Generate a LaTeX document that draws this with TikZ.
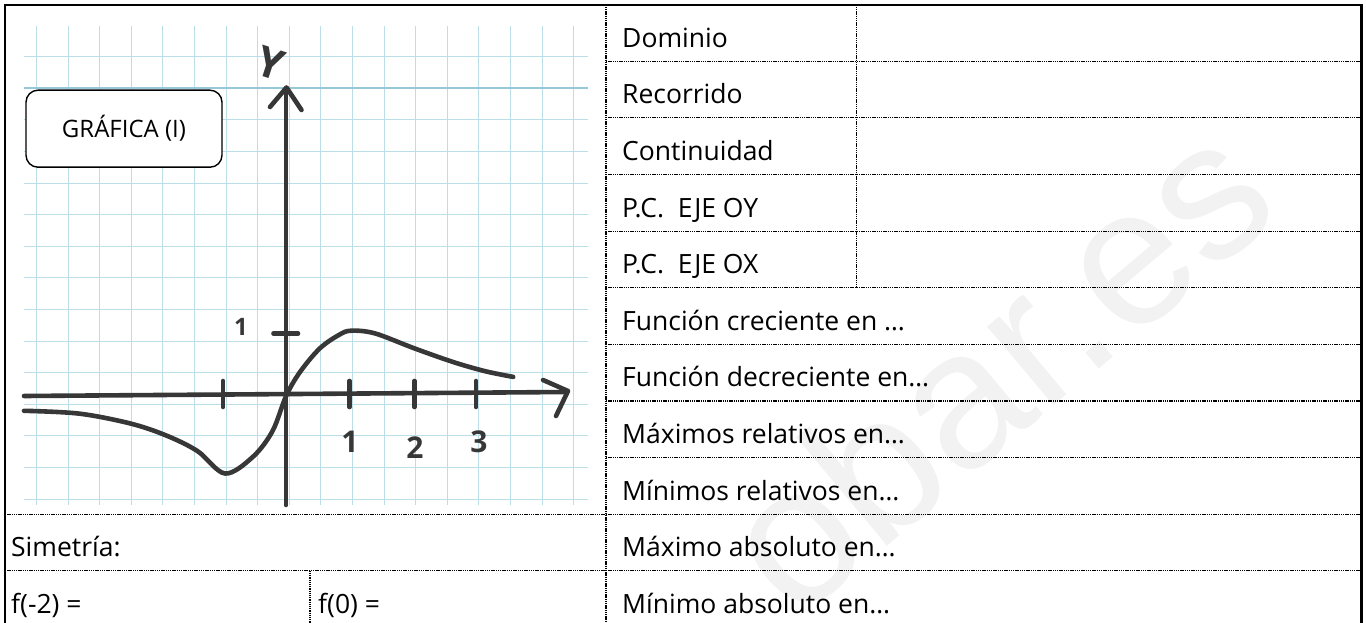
\documentclass[tikz,border=0pt]{standalone}
\usepackage{fontspec}
\setmainfont{Open Sans}
\newfontfamily\markfont{Liberation Sans}
\usetikzlibrary{calc}

\definecolor{inkgrey}{RGB}{55,55,55}
\definecolor{paperblue}{RGB}{188,222,232}
\definecolor{marginblue}{RGB}{150,200,218}

\tikzset{
  frame/.style={line width=2.2pt, color=black},
  cellline/.style={line width=1.2pt, color=black, dash pattern=on 1.3pt off 0.9pt},
  paperline/.style={line width=1pt, color=paperblue},
  handline/.style={line width=4.6pt, color=inkgrey, line cap=round, line join=round},
  celltext/.style={anchor=base west, inner sep=0pt, font=\fontsize{26.5}{31}\selectfont},
  handtext/.style={inner sep=0pt, text=inkgrey, font=\bfseries\fontsize{30}{36}\selectfont},
  titlebox/.style={draw, line width=1.4pt, rounded corners=12pt, fill=white,
    minimum width=196pt, minimum height=77pt}
}

\begin{document}
\begin{tikzpicture}[x=1pt, y=-1pt]
			%%%%% START %%%%%
			\useasboundingbox (0,0) rectangle (1366,623);
			
			% faint watermark
			\node[rotate=40, text=black!5, inner sep=0pt, font=\markfont\fontsize{195}{195}\selectfont] (mark) at (995,365) {obar.es};
			
			% squared paper
			\foreach \gx in {0,...,17}
				\draw[paperline] ({36.5+31.6*\gx},26) -- ++(0,479);
			\foreach \gy in {0,...,14}
				\draw[paperline] (24,{56.7+31.6*\gy}) -- (588,{56.7+31.6*\gy});
			\draw[line width=1.6pt, color=marginblue] (24,88.3) -- (588,88.3);
			
			% axes
			\draw[handline] (286,505) -- (286,88);
			\draw[handline] (270,107) -- (286.5,87.5) -- (301.5,110);
			\draw[handline] (24,396) -- (567,392);
			\draw[handline] (543,380) -- (568,391) -- (556,416);
			\foreach \tx in {223,349.5,414.5,476}
				\draw[handline] (\tx,381) -- (\tx,407);
			\draw[handline] (273.5,333.5) -- (298,333.5);
			
			\node[handtext, rotate=-18, font=\bfseries\fontsize{42}{46}\selectfont] (ylab) at (271,63) {Y};
			\node[handtext, font=\bfseries\fontsize{24}{28}\selectfont] (onev) at (241,327) {1};
			\node[handtext] (oneh) at (350,442) {1};
			\node[handtext] (twoh) at (415,448) {2};
			\node[handtext] (threeh) at (479,442) {3};
			
			% the curve
			\draw[handline] plot[smooth, tension=0.55] coordinates {(24,410.8) (79,413.6) (130,423.4) (165.8,435.3) (197.4,451) (225,473.5) (252.7,457) (272.4,431.3) (286.2,395.8) (300,372) (319.8,348.4) (339.5,334.6) (351.4,330.7) (375,333.4) (414.5,348.4) (454,362.3) (485.6,371.3) (513.2,376.9)};
			
			\node[titlebox] (title) at (124,128.7) {\raisebox{3pt}{\fontsize{24}{28}\selectfont GRÁFICA (I)}};
			
			% table
			\draw[frame] (5,4.7) rectangle (1361.5,627.3);
			\draw[cellline] (606,4.7) -- (606,627.3);
			\draw[cellline] (856.7,4.7) -- (856.7,287.7);
			\foreach \r in {1,...,10}
				\draw[cellline] (606,{4.7+56.6*\r}) -- (1361.5,{4.7+56.6*\r});
			\draw[cellline] (5,514.1) -- (606,514.1);
			\draw[cellline] (5,570.7) -- (606,570.7);
			\draw[cellline] (310,570.7) -- (310,627.3);
			
			\foreach \txt [count=\r from 0] in {Dominio, Recorrido, Continuidad, P.C.\ \ EJE OY, P.C.\ \ EJE OX, Función creciente en …, Función decreciente en…, Máximos relativos en…, Mínimos relativos en…, Máximo absoluto en…, Mínimo absoluto en…}
				\node[celltext] (lab\r) at (622,{4.7+56.6*\r+42.5}) {\txt};
			
			\node[celltext] (sim) at (11,556.6) {Simetría:};
			\node[celltext] (fmtwo) at (11,613.2) {f(-2) =};
			\node[celltext] (fzero) at (318,613.2) {f(0) =};
			%%%%% END %%%%%
\end{tikzpicture}
\end{document}
